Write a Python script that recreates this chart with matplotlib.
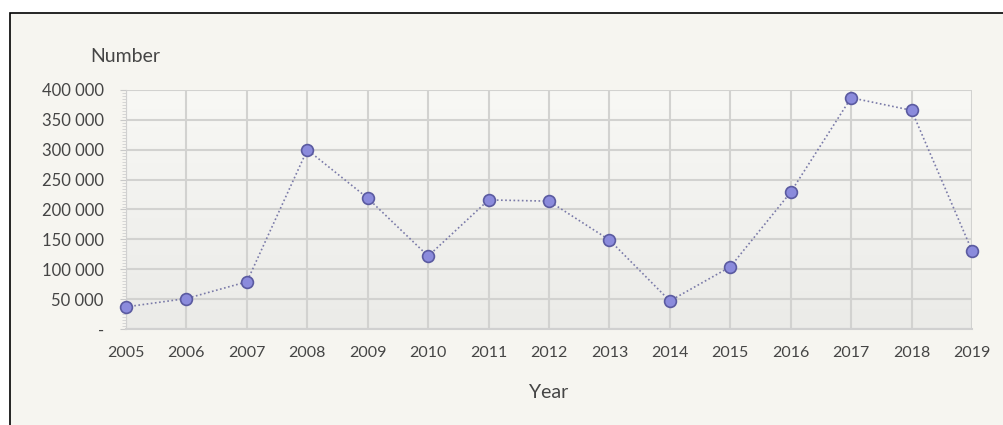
import matplotlib
matplotlib.use("Agg")
import matplotlib.pyplot as plt
from matplotlib.patches import Rectangle
from matplotlib.ticker import FuncFormatter, MultipleLocator
import numpy as np

years = [2005, 2006, 2007, 2008, 2009, 2010, 2011, 2012, 2013, 2014, 2015, 2016, 2017, 2018, 2019]
numbers = [37000, 51000, 79000, 300000, 219000, 122000, 216000, 214000, 149000, 47000,
           104000, 229000, 387000, 366000, 131000]
y_ticks = [0, 50000, 100000, 150000, 200000, 250000, 300000, 350000, 400000]

plt.rcParams["font.family"] = ["Lato", "DejaVu Sans"]
text_col = "#454545"

fig = plt.figure(figsize=(10.04, 4.25), dpi=100)
fig.patch.set_facecolor("white")
# outer frame, only top and left edges visible
fig.patches.append(Rectangle((10 / 1004, -0.1), 1.2, (425 - 13) / 425 + 0.1,
                             transform=fig.transFigure, facecolor="#f6f5f0",
                             edgecolor="black", linewidth=1.2, zorder=-5))

ax = fig.add_axes([126 / 1004, 96 / 425, 846 / 1004, 239 / 425])
ax.set_facecolor("none")

# light gradient in plot area
grad = np.linspace(0, 1, 100).reshape(-1, 1)
ax.imshow(grad, extent=[2005, 2019, 0, 400000], aspect="auto", origin="lower",
          cmap=matplotlib.colors.LinearSegmentedColormap.from_list("g", ["#ebebe8", "#f8f8f5"]),
          zorder=0)

ax.plot(years, numbers, linestyle=(0, (1, 1.5)), color="#7a7aa8", linewidth=1.2,
        marker="o", markersize=8.5, markerfacecolor="#8b8bdc", markeredgecolor="#5a5aa0",
        markeredgewidth=1.2, clip_on=False, zorder=3)

ax.set_xlim(2005, 2019)
ax.set_ylim(0, 400000)
ax.set_xticks(years)
ax.set_yticks(y_ticks)
ax.yaxis.set_minor_locator(MultipleLocator(5000))
ax.yaxis.set_major_formatter(FuncFormatter(
    lambda v, p: "-" if v == 0 else "{:,}".format(int(v)).replace(",", " ")))

ax.grid(True, color="#d2d2d0", linewidth=1.5, zorder=1)
ax.set_axisbelow(True)
for s in ["top", "right"]:
    ax.spines[s].set_visible(False)
ax.spines["left"].set_color("#d0d0d0")
ax.spines["bottom"].set_color("#d0d0d0")
ax.spines["bottom"].set_linewidth(1.5)

ax.tick_params(axis="x", length=0, pad=12, labelsize=11.5, labelcolor=text_col)
ax.tick_params(axis="y", which="major", length=4, color="#c8c8c8", pad=12,
               labelsize=12, labelcolor=text_col)
ax.tick_params(axis="y", which="minor", length=3, color="#d0d0d0")

fig.text(90 / 1004, 1 - 56 / 425, "Number", fontsize=14, color=text_col,
         ha="left", va="center")
fig.text(549 / 1004, 1 - 393 / 425, "Year", fontsize=14, color=text_col,
         ha="center", va="center")

fig.savefig("out.png", dpi=100, facecolor=fig.get_facecolor())
